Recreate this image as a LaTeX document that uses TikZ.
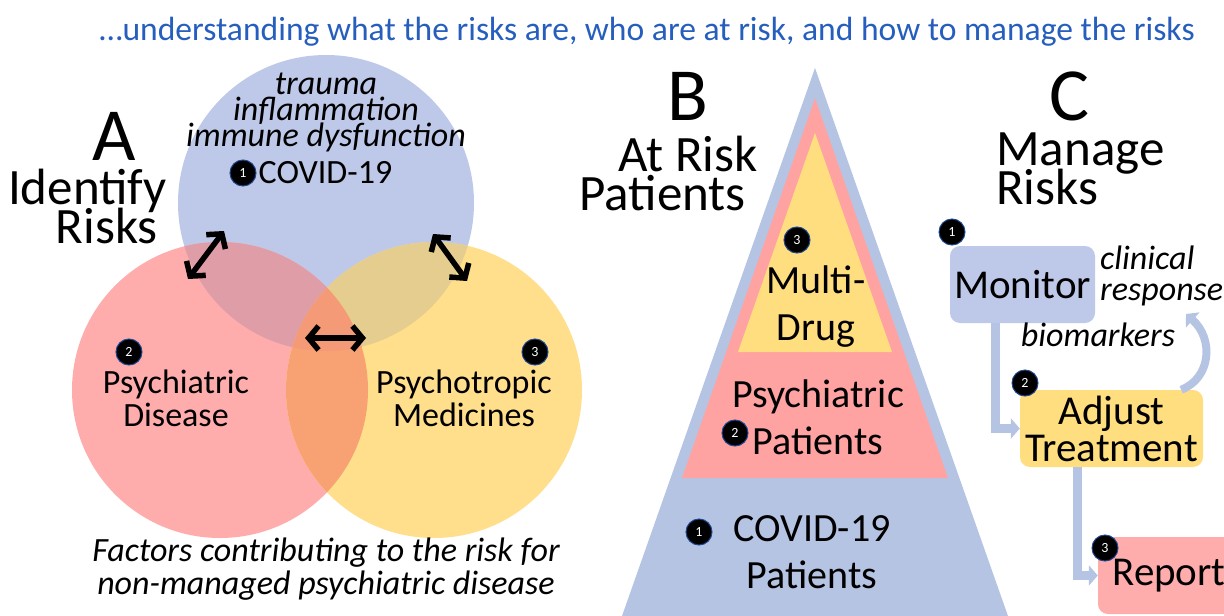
\documentclass[tikz,border=0pt]{standalone}
\usepackage{fontspec}
\setmainfont{Carlito}
\usetikzlibrary{arrows.meta,positioning}

\definecolor{titleBlue}{RGB}{38,94,190}
\definecolor{setBlue}{RGB}{190,200,232}
\definecolor{setRed}{RGB}{255,172,172}
\definecolor{setYellow}{RGB}{255,222,140}
\definecolor{blueRed}{RGB}{222,157,167}
\definecolor{blueYellow}{RGB}{228,205,142}
\definecolor{redYellow}{RGB}{248,162,116}
\definecolor{allThree}{RGB}{245,154,118}
\definecolor{tierBlue}{RGB}{182,196,228}
\definecolor{tierRed}{RGB}{255,162,162}
\definecolor{tierYellow}{RGB}{255,222,128}
\definecolor{badgeRim}{RGB}{30,70,140}

\newcommand{\setSize}[2]{\fontsize{#1}{#2}\selectfont\lineskiplimit=-40pt\relax}

\tikzset{
  numBadge/.style={circle, fill=black, draw=badgeRim, line width=1pt, text=white,
    inner sep=0pt, minimum size=26pt, font={\setSize{14}{14}}},
  bigLetter/.style={inner sep=0pt, font={\setSize{75}{75}}},
  heading/.style={inner sep=0pt, font={\setSize{51}{39}}},
  setText/.style={inner sep=0pt, align=center, font={\setSize{34}{33}}},
  noteText/.style={inner sep=0pt, font={\itshape\setSize{34}{33}}},
  tierText/.style={inner sep=0pt, align=center, font={\setSize{40}{47}}},
  stepBox/.style={rounded corners=10pt, minimum height=77pt, inner sep=0pt,
    align=center, font={\setSize{41}{37}}},
  flow/.style={draw=tierBlue, line width=9pt, -{Triangle[length=9pt,width=20pt]}},
  twoWay/.style={line width=5.5pt,
    {Straight Barb[length=10pt,width=24pt]}-{Straight Barb[length=10pt,width=24pt]}}
}

\begin{document}
\begin{tikzpicture}[x=1pt,y=-1pt]
\clip (0,0) rectangle (1224,616);

\node[inner sep=0pt, anchor=base, text=titleBlue, font={\setSize{33.6}{34}}] (title) at (647,40)
  {…understanding what the risks are, who are at risk, and how to manage the risks};

% A: the three sets
\fill[setBlue] (326,203) circle (148pt);
\fill[setRed] (220,390) circle (148pt);
\fill[setYellow] (434,390) circle (148pt);
\begin{scope}
  \clip (326,203) circle (148pt);
  \fill[blueRed] (220,390) circle (148pt);
  \fill[blueYellow] (434,390) circle (148pt);
\end{scope}
\begin{scope}
  \clip (220,390) circle (148pt);
  \fill[redYellow] (434,390) circle (148pt);
  \clip (326,203) circle (148pt);
  \fill[allThree] (434,390) circle (148pt);
\end{scope}

\coordinate (psyTop) at (188,279);
\coordinate (covidLeft) at (224,231);
\coordinate (covidRight) at (433,234);
\coordinate (drugTop) at (467,281);
\coordinate (psyMid) at (305,338);
\coordinate (drugMid) at (366,338);
\draw[twoWay] (psyTop) -- (covidLeft);
\draw[twoWay] (covidRight) -- (drugTop);
\draw[twoWay] (psyMid) -- (drugMid);

\node[bigLetter, anchor=base] (letterA) at (114,160) {A};
\node[heading, align=right, anchor=east] (identify) at (167,206) {Identify\\Risks\hspace*{9pt}};
\node[noteText, align=center, font={\itshape\setSize{34}{26}}] (mechanisms) at (326,112)
  {trauma\\inflammation\\immune dysfunction};
\node[numBadge] (numA1) at (243,173) {1};
\node[setText, right=2pt of numA1] (covidSet) {COVID-19};
\node[setText] (psySet) at (176,398) {Psychiatric\\Disease};
\node[numBadge] (numA2) at (129,352) {2};
\node[setText] (drugSet) at (464,398) {Psychotropic\\Medicines};
\node[numBadge] (numA3) at (535,352) {3};
\node[noteText, align=center] (factors) at (326,569)
  {Factors contributing to the risk for\\non-managed psychiatric disease};

% B: the pyramid
\fill[tierBlue] (815,68) -- (622,616) -- (1008,616) -- cycle;
\fill[tierRed] (815,98) -- (682,478) -- (948,478) -- cycle;
\fill[tierYellow] (815,133) -- (738,352) -- (892,352) -- cycle;

\node[bigLetter, anchor=base] (letterB) at (688,120) {B};
\node[heading, align=right, anchor=east] (atRisk) at (758,173) {At Risk\\Patients\hspace*{12pt}};
\node[tierText] (multiDrug) at (816,307) {Multi-\\Drug};
\node[numBadge] (numB3) at (797,240) {3};
\node[tierText] (psyTier) at (818,417) {Psychiatric\\Patients};
\node[numBadge] (numB2) at (735,433) {2};
\node[tierText] (covidTier) at (812,552) {COVID-19\\Patients};
\node[numBadge] (numB1) at (699,532) {1};

% C: the steps
\node[bigLetter, anchor=base] (letterC) at (1069,120) {C};
\node[heading, align=left, anchor=west] (manage) at (996,169) {Manage\\Risks};
\node[stepBox, fill=setBlue, minimum width=145pt] (monitor) at (1022.5,284.5) {Monitor};
\node[stepBox, fill=tierYellow, minimum width=183pt] (adjust) at (1111.5,428.5) {Adjust\\Treatment};
\node[stepBox, fill=setRed, minimum width=142pt] (report) at (1169,575.5) {Report};
\node[noteText, align=left, anchor=west, font={\itshape\setSize{34}{31}}] (clinical) at (1100,276)
  {clinical\\response};
\node[noteText, anchor=base] (biomarkers) at (1098,346) {biomarkers};

\coordinate (feedbackEnd) at (1186,314);
\draw[flow] (monitor.south west) ++(46,0) |- (adjust.west);
\draw[flow] (adjust.south west) ++(58,0) |- (report.west);
\draw[flow, line width=8pt] (adjust.north east) ++(-22,0) .. controls +(30,-12) and +(28,25) .. (feedbackEnd);

\node[numBadge] (numC1) at (952,232) {1};
\node[numBadge] (numC2) at (1025,383) {2};
\node[numBadge] (numC3) at (1105,548) {3};

\end{tikzpicture}
\end{document}
